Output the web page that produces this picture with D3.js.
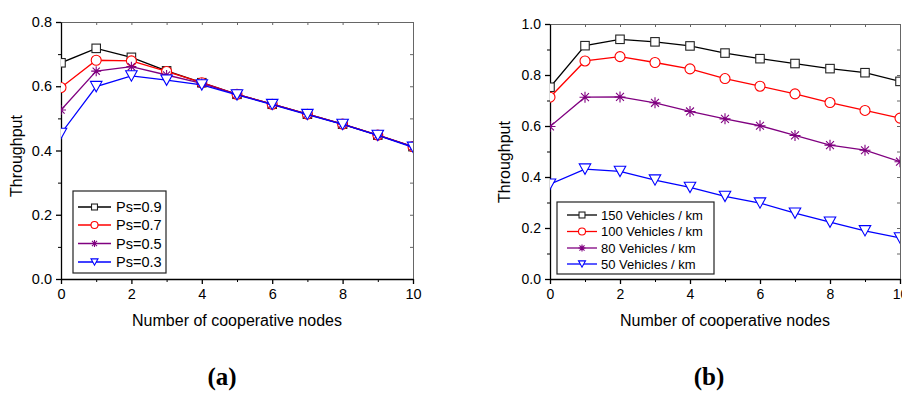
<!DOCTYPE html>
<html>
<head>
<meta charset="utf-8">
<script src="https://cdn.jsdelivr.net/npm/d3@7"></script>
<style>
body { margin: 0; background: #fff; }
svg text { font-family: "Liberation Sans", Arial, sans-serif; fill: #000; }
</style>
</head>
<body>
<svg id="chart" width="902" height="394"></svg>
<script>
// x values shared by both panels
var nodes = [0, 1, 2, 3, 4, 5, 6, 7, 8, 9, 10];

// panel (a): success probability
var psLabels = ["Ps=0.9", "Ps=0.7", "Ps=0.5", "Ps=0.3"];
var ps09 = [0.673, 0.718, 0.690, 0.648, 0.611, 0.575, 0.544, 0.513, 0.482, 0.448, 0.412];
var ps07 = [0.596, 0.681, 0.679, 0.646, 0.611, 0.575, 0.544, 0.513, 0.482, 0.448, 0.412];
var ps05 = [0.526, 0.647, 0.661, 0.635, 0.609, 0.575, 0.544, 0.513, 0.482, 0.448, 0.412];
var ps03 = [0.453, 0.599, 0.632, 0.619, 0.604, 0.573, 0.543, 0.512, 0.481, 0.447, 0.410];

// panel (b): vehicle density
var vehLabels = ["150 Vehicles / km", "100 Vehicles / km", "80 Vehicles / km", "50 Vehicles / km"];
var v150 = [0.752, 0.915, 0.940, 0.930, 0.914, 0.886, 0.864, 0.845, 0.825, 0.809, 0.775];
var v100 = [0.713, 0.855, 0.872, 0.849, 0.824, 0.786, 0.756, 0.726, 0.692, 0.661, 0.631];
var v80 = [0.598, 0.713, 0.714, 0.691, 0.657, 0.628, 0.601, 0.563, 0.525, 0.505, 0.460];
var v50 = [0.372, 0.431, 0.422, 0.388, 0.359, 0.324, 0.298, 0.258, 0.223, 0.189, 0.161];

// tick values
var xMajor = [0, 2, 4, 6, 8, 10];
var xMinor = [1, 3, 5, 7, 9];

var colors = ["#000000", "#ff0000", "#800080", "#0000ff"];
var markers = ["square", "circle", "star", "triangle"];

var svg = d3.select("#chart");

// draw one marker shape centred on 0,0
function drawMarker(g, type, size, color) {
	var r = size / 2;
	if (type == "square") {
		g.append("rect").attr("x", -r * 0.85).attr("y", -r * 0.85)
			.attr("width", r * 1.7).attr("height", r * 1.7)
			.attr("fill", "#fff").attr("stroke", "#222").attr("stroke-width", 1.1);
	} else if (type == "circle") {
		g.append("circle").attr("r", r)
			.attr("fill", "#fff").attr("stroke", color).attr("stroke-width", 1.1);
	} else if (type == "triangle") {
		var h = r * 0.9;
		g.append("path").attr("d", "M" + (-r) + "," + (-h) + "L" + r + "," + (-h) + "L0," + h + "Z")
			.attr("fill", "#fff").attr("stroke", color).attr("stroke-width", 1.1);
	} else {
		var d = r * 0.72;
		g.append("path")
			.attr("d", "M0," + (-r) + "V" + r + "M" + (-r) + ",0H" + r +
				"M" + (-d) + "," + (-d) + "L" + d + "," + d + "M" + (-d) + "," + d + "L" + d + "," + (-d))
			.attr("stroke", color).attr("stroke-width", 1.1).attr("fill", "none");
		g.append("circle").attr("r", 1.3).attr("fill", color);
	}
}

function drawPanel(p) {
	var x = d3.scaleLinear().domain([0, 10]).range([p.left, p.right]);
	var y = d3.scaleLinear().domain([0, p.yMax]).range([p.bottom, p.top]);
	var yMajor = d3.range(0, p.yMax + 0.01, 0.2);
	var yMinor = d3.range(0.1, p.yMax, 0.2);

	var g = svg.append("g");

	// clip for the lines and markers
	g.append("clipPath").attr("id", p.id + "clip")
		.append("rect").attr("x", p.left).attr("y", p.top)
		.attr("width", p.right - p.left).attr("height", p.bottom - p.top);

	// top and right frame with small inward ticks
	g.append("g").attr("transform", "translate(0," + p.top + ")")
		.call(d3.axisTop(x).tickValues(xMajor.concat(xMinor)).tickSize(-3).tickFormat(""))
		.call(function(a) { a.selectAll("path,line").attr("stroke", "#666"); });
	g.append("g").attr("transform", "translate(" + p.right + ",0)")
		.call(d3.axisRight(y).tickValues(yMajor.concat(yMinor)).tickSize(-3).tickFormat(""))
		.call(function(a) { a.selectAll("path,line").attr("stroke", "#666"); });

	// bottom axis
	g.append("g").attr("transform", "translate(0," + p.bottom + ")")
		.call(d3.axisBottom(x).tickValues(xMinor).tickSize(3).tickFormat(""))
		.call(function(a) { a.select(".domain").remove(); });
	var xa = g.append("g").attr("transform", "translate(0," + p.bottom + ")")
		.call(d3.axisBottom(x).tickValues(xMajor).tickSize(5).tickPadding(4.7).tickSizeOuter(0));
	xa.selectAll("text").attr("font-size", p.tickFont).attr("font-family", "Liberation Sans, Arial, sans-serif").attr("fill", "#000");
	xa.selectAll("path,line").attr("stroke-width", 1.3);

	// left axis
	g.append("g").attr("transform", "translate(" + p.left + ",0)")
		.call(d3.axisLeft(y).tickValues(yMinor).tickSize(3).tickFormat(""))
		.call(function(a) { a.select(".domain").remove(); });
	var ya = g.append("g").attr("transform", "translate(" + p.left + ",0)")
		.call(d3.axisLeft(y).tickValues(yMajor).tickSize(5).tickPadding(4).tickSizeOuter(0).tickFormat(d3.format(".1f")));
	ya.selectAll("text").attr("font-size", p.tickFont).attr("font-family", "Liberation Sans, Arial, sans-serif").attr("fill", "#000");
	ya.selectAll("path,line").attr("stroke-width", 1.3);

	// series lines and markers
	var line = d3.line().x(function(d, i) { return x(nodes[i]); }).y(function(d) { return y(d); });
	var plot = g.append("g").attr("clip-path", "url(#" + p.id + "clip)");
	p.series.forEach(function(s, k) {
		plot.append("path").attr("d", line(s)).attr("fill", "none")
			.attr("stroke", colors[k]).attr("stroke-width", 1.3);
		s.forEach(function(v, i) {
			var m = plot.append("g").attr("transform", "translate(" + x(nodes[i]) + "," + y(v) + ")");
			drawMarker(m, markers[k], p.markerSizes[k], colors[k]);
		});
	});

	// legend
	var lg = p.legend;
	g.append("rect").attr("x", lg.x).attr("y", lg.y).attr("width", lg.w).attr("height", lg.h)
		.attr("fill", "#fff").attr("stroke", "#222").attr("stroke-width", 1.2);
	p.labels.forEach(function(lab, k) {
		var ly = lg.rows[k];
		g.append("line").attr("x1", lg.lineX0).attr("x2", lg.lineX1).attr("y1", ly).attr("y2", ly)
			.attr("stroke", colors[k]).attr("stroke-width", 1.3);
		var m = g.append("g").attr("transform", "translate(" + ((lg.lineX0 + lg.lineX1) / 2) + "," + ly + ")");
		drawMarker(m, markers[k], lg.markerSize, colors[k]);
		g.append("text").attr("x", lg.textX).attr("y", ly + lg.font * 0.36)
			.attr("font-size", lg.font).text(lab);
	});

	// axis titles
	g.append("text").attr("x", p.xTitleX).attr("y", 325.5).attr("text-anchor", "middle")
		.attr("font-size", 16).text("Number of cooperative nodes");
	g.append("text").attr("transform", "translate(" + p.yTitleX + "," + p.yTitleY + ") rotate(-90)")
		.attr("text-anchor", "middle").attr("font-size", 16).text("Throughput");

	// panel caption
	g.append("text").attr("x", p.capX).attr("y", 385).attr("text-anchor", "middle")
		.attr("font-size", 25).attr("font-weight", "bold")
		.style("font-family", "'Liberation Serif', 'DejaVu Serif', serif")
		.text(p.caption);
}

drawPanel({
	id: "a", left: 61, right: 413, top: 22, bottom: 279, yMax: 0.8,
	series: [ps09, ps07, ps05, ps03], labels: psLabels,
	markerSizes: [10, 10, 10, 11.5], tickFont: 14.5,
	legend: { x: 73, y: 191, w: 93, h: 82, rows: [207, 225, 243.5, 262], lineX0: 78, lineX1: 111,
		textX: 116, font: 14.5, markerSize: 7 },
	xTitleX: 237, yTitleX: 21.5, yTitleY: 156, capX: 222, caption: "(a)"
});

drawPanel({
	id: "b", left: 550, right: 900, top: 24, bottom: 279, yMax: 1.0,
	series: [v150, v100, v80, v50], labels: vehLabels,
	markerSizes: [10, 10, 11, 11.5], tickFont: 14,
	legend: { x: 557, y: 202, w: 157, h: 72, rows: [215, 231.5, 248, 264], lineX0: 567, lineX1: 597,
		textX: 601, font: 13, markerSize: 7 },
	xTitleX: 725, yTitleX: 509.5, yTitleY: 162, capX: 709, caption: "(b)"
});
</script>
</body>
</html>
